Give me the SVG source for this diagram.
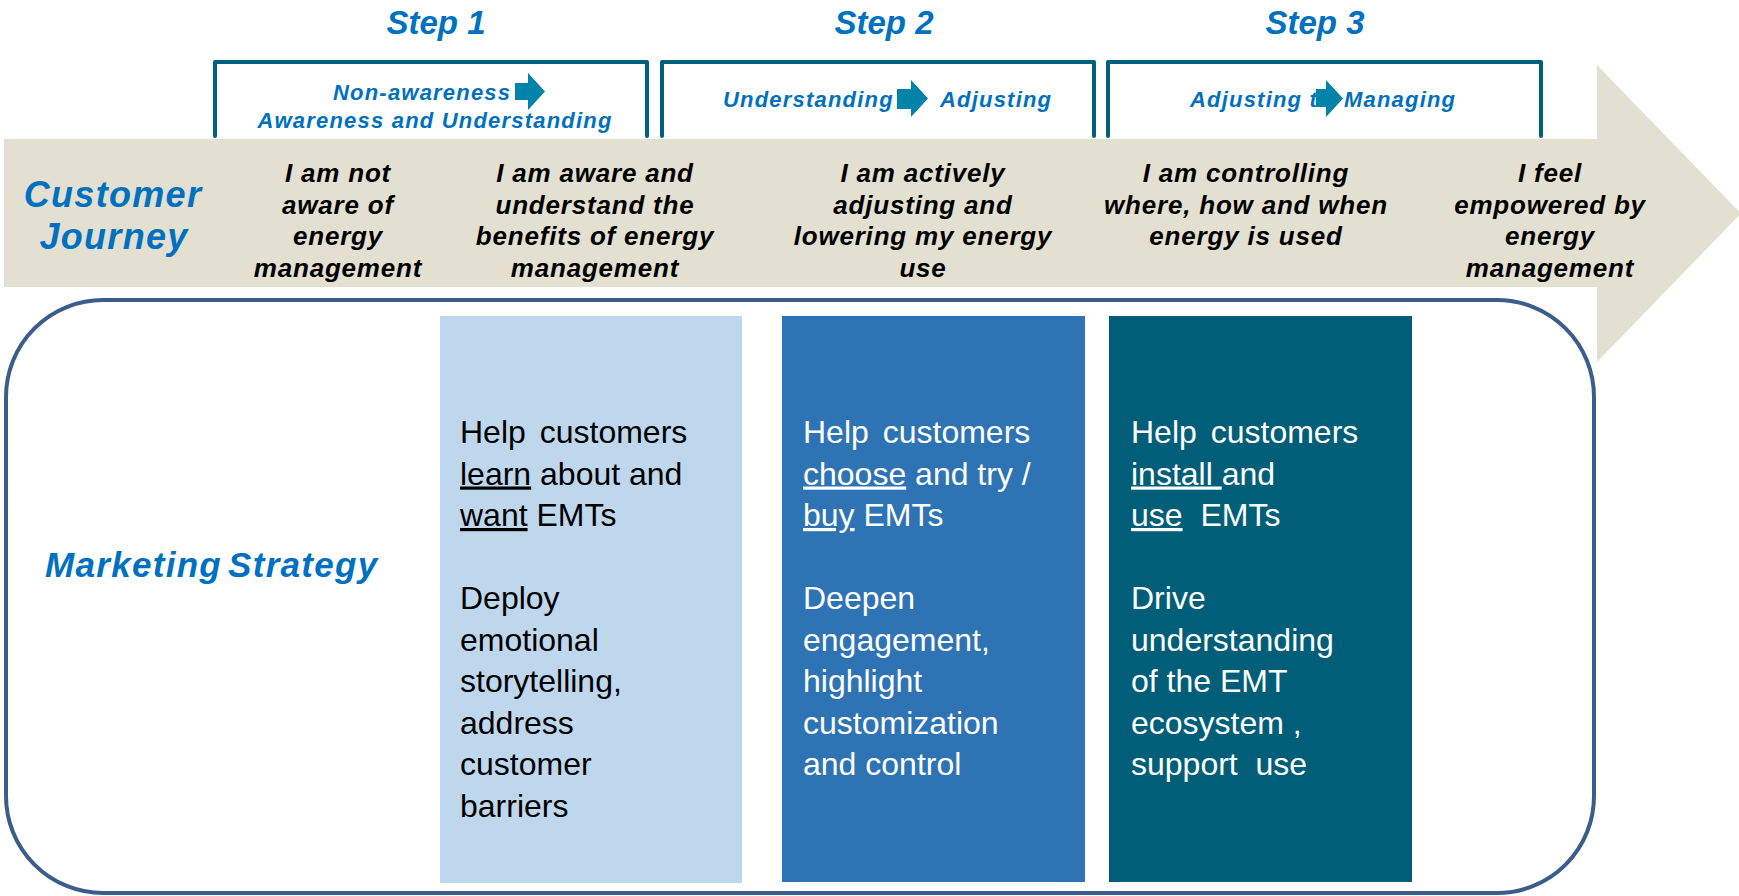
<svg xmlns="http://www.w3.org/2000/svg" width="1739" height="896" viewBox="0 0 1739 896">
  <style>
    .step { font-family: "Liberation Sans", Arial, sans-serif; font-weight: bold; font-style: italic; font-size: 33px; fill: #0070c0; text-anchor: middle; }
    .stage { font-family: "Liberation Sans", Arial, sans-serif; font-weight: bold; font-style: italic; font-size: 22px; letter-spacing: 1.2px; fill: #0070c0; }
    .bracket { fill: none; stroke: #005f7a; stroke-width: 4; stroke-linecap: round; stroke-linejoin: round; }
    .mini { fill: #0083a8; }
    .band { fill: #e3e0d1; }
    .label { font-family: "Liberation Sans", Arial, sans-serif; font-weight: bold; font-style: italic; font-size: 36px; letter-spacing: 1.3px; fill: #0070c0; }
    .journey { font-family: "Liberation Sans", Arial, sans-serif; font-weight: bold; font-style: italic; font-size: 26px; letter-spacing: 0.8px; fill: #000; text-anchor: middle; }
    .frame { fill: #fff; stroke: #3b5d8c; stroke-width: 4; }
    .body { font-family: "Liberation Sans", Arial, sans-serif; font-size: 32px; white-space: pre; }
    .dark { fill: #000; }
    .light { fill: #fff; }
    .u { text-decoration: underline; }
  </style>

  <!-- Step headings and stage brackets -->
  <g id="step1">
    <text class="step" x="436" y="34">Step 1</text>
    <path class="bracket" d="M215,136 V62 H647 V136"/>
    <text class="stage" x="333" y="100">Non-awareness</text>
    <path class="mini" d="M515,83 H528 V73 L545,91.5 L528,110 V100 H515 Z"/>
    <text class="stage" x="435" y="128" text-anchor="middle">Awareness and Understanding</text>
  </g>
  <g id="step2">
    <text class="step" x="884" y="34">Step 2</text>
    <path class="bracket" d="M662,136 V62 H1094 V136"/>
    <text class="stage" x="723" y="107">Understanding</text>
    <path class="mini" d="M897,89 H911 V80 L928,98.5 L911,117 V109 H897 Z"/>
    <text class="stage" x="940" y="107">Adjusting</text>
  </g>
  <g id="step3">
    <text class="step" x="1315" y="34">Step 3</text>
    <path class="bracket" d="M1108,136 V62 H1541 V136"/>
    <text class="stage" x="1190" y="107">Adjusting to<tspan x="1344">Managing</tspan></text>
    <path class="mini" d="M1316,89 H1326 V80 L1343,98.5 L1326,117 V107 H1316 Z"/>
  </g>

  <!-- Customer journey arrow -->
  <g id="journey-arrow">
    <path class="band" d="M4,139 H1597 V65 L1741,213.5 L1597,362 V287 H4 Z"/>
  </g>

  <g id="customer-journey-label">
    <text class="label" x="113" y="207" text-anchor="middle">Customer</text>
    <text class="label" x="114" y="249" text-anchor="middle">Journey</text>
  </g>

  <g id="stage-not-aware">
    <text class="journey" x="338" y="182">I am not</text>
    <text class="journey" x="338" y="213.5">aware of</text>
    <text class="journey" x="338" y="245">energy</text>
    <text class="journey" x="338" y="276.5">management</text>
  </g>
  <g id="stage-aware">
    <text class="journey" x="595" y="182">I am aware and</text>
    <text class="journey" x="595" y="213.5">understand the</text>
    <text class="journey" x="595" y="245">benefits of energy</text>
    <text class="journey" x="595" y="276.5">management</text>
  </g>
  <g id="stage-adjusting">
    <text class="journey" x="923" y="182">I am actively</text>
    <text class="journey" x="923" y="213.5">adjusting and</text>
    <text class="journey" x="923" y="245">lowering my energy</text>
    <text class="journey" x="923" y="276.5">use</text>
  </g>
  <g id="stage-controlling">
    <text class="journey" x="1246" y="182">I am controlling</text>
    <text class="journey" x="1246" y="213.5">where, how and when</text>
    <text class="journey" x="1246" y="245">energy is used</text>
  </g>
  <g id="stage-empowered">
    <text class="journey" x="1550" y="182">I feel</text>
    <text class="journey" x="1550" y="213.5">empowered by</text>
    <text class="journey" x="1550" y="245">energy</text>
    <text class="journey" x="1550" y="276.5">management</text>
  </g>

  <!-- Marketing strategy panel -->
  <g id="strategy-frame">
    <rect class="frame" x="6" y="300" width="1588" height="593" rx="97" ry="97"/>
  </g>

  <g id="marketing-strategy-label">
    <text class="label" x="45" y="577" style="font-size:35px" word-spacing="-5">Marketing Strategy</text>
  </g>

  <g id="strategy-learn">
    <rect x="440" y="316" width="302" height="567" fill="#bfd7ed"/>
    <text class="body dark" x="460" y="443" word-spacing="5">Help customers</text>
    <text class="body dark" x="460" y="484.5"><tspan class="u">learn</tspan> about and</text>
    <text class="body dark" x="460" y="526"><tspan class="u">want</tspan> EMTs</text>
    <text class="body dark" x="460" y="609">Deploy</text>
    <text class="body dark" x="460" y="650.5">emotional</text>
    <text class="body dark" x="460" y="692">storytelling,</text>
    <text class="body dark" x="460" y="733.5">address</text>
    <text class="body dark" x="460" y="775">customer</text>
    <text class="body dark" x="460" y="816.5">barriers</text>
  </g>

  <g id="strategy-choose">
    <rect x="782" y="316" width="303" height="566" fill="#2e74b5"/>
    <text class="body light" x="803" y="443" word-spacing="5">Help customers</text>
    <text class="body light" x="803" y="484.5"><tspan class="u">choose</tspan> and try /</text>
    <text class="body light" x="803" y="526"><tspan class="u">buy</tspan> EMTs</text>
    <text class="body light" x="803" y="609">Deepen</text>
    <text class="body light" x="803" y="650.5">engagement,</text>
    <text class="body light" x="803" y="692">highlight</text>
    <text class="body light" x="803" y="733.5">customization</text>
    <text class="body light" x="803" y="775">and control</text>
  </g>

  <g id="strategy-install">
    <rect x="1109" y="316" width="303" height="566" fill="#005e78"/>
    <text class="body light" x="1131" y="443" word-spacing="5">Help customers</text>
    <text class="body light" x="1131" y="484.5"><tspan class="u">install </tspan>and</text>
    <text class="body light" x="1131" y="526"><tspan class="u">use</tspan>  EMTs</text>
    <text class="body light" x="1131" y="609">Drive</text>
    <text class="body light" x="1131" y="650.5">understanding</text>
    <text class="body light" x="1131" y="692">of the EMT</text>
    <text class="body light" x="1131" y="733.5">ecosystem ,</text>
    <text class="body light" x="1131" y="775">support  use</text>
  </g>

  <!-- no connectors in this layout -->
  <g id="connectors"/>
</svg>
